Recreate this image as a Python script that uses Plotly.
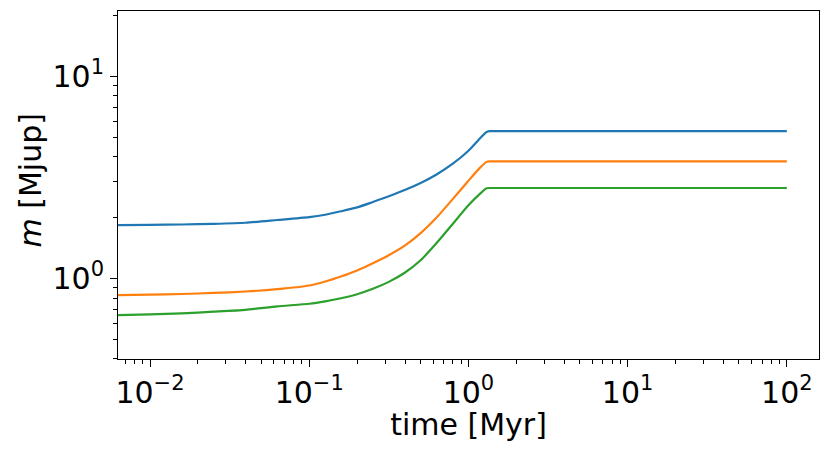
"""Planet mass growth against time for three models, log-log axes."""

import plotly.graph_objects as go

# time grid [Myr]
time_myr = [0.0063, 0.01, 0.0158, 0.0251, 0.0398, 0.063, 0.1, 0.126,
            0.158, 0.2, 0.251, 0.316, 0.398, 0.501, 0.631, 0.794, 1.0,
            1.18, 1.30, 1.36, 1.45, 10.0, 100.0]

# masses [Mjup]
mass_blue = [1.836, 1.84, 1.848, 1.862, 1.885, 1.945, 2.01, 2.065,
             2.148, 2.245, 2.388, 2.547, 2.735, 2.965, 3.266, 3.68, 4.28,
             4.92, 5.30, 5.35, 5.35, 5.35, 5.35]
mass_orange = [0.828, 0.832, 0.838, 0.848, 0.862, 0.885, 0.923, 0.966,
               1.023, 1.096, 1.189, 1.303, 1.452, 1.675, 2.00, 2.46, 3.04,
               3.52, 3.77, 3.79, 3.79, 3.79, 3.79]
mass_green = [0.659, 0.664, 0.672, 0.685, 0.70, 0.728, 0.75, 0.771,
              0.798, 0.836, 0.889, 0.962, 1.067, 1.230, 1.496, 1.854, 2.30,
              2.62, 2.79, 2.80, 2.80, 2.80, 2.80]

series = [
    (mass_blue, "#1f77b4"),
    (mass_orange, "#ff7f0e"),
    (mass_green, "#2ca02c"),
]

# tick labels
x_major = [0.01, 0.1, 1, 10, 100]
x_major_text = ["10<sup>\u22122</sup>", "10<sup>\u22121</sup>",
                "10<sup>0</sup>", "10<sup>1</sup>", "10<sup>2</sup>"]
y_major = [1, 10]
y_major_text = ["10<sup>0</sup>", "10<sup>1</sup>"]

x_minor = [m * 10.0 ** e for e in range(-3, 3) for m in range(2, 10)]
y_minor = [m * 10.0 ** e for e in range(-1, 2) for m in range(2, 10)]

fig = go.Figure()
for mass, colour in series:
    fig.add_trace(go.Scatter(
        x=time_myr, y=mass, mode="lines",
        line=dict(color=colour, width=2.2, shape="spline", smoothing=0.6),
        showlegend=False,
    ))

axis_common = dict(
    type="log", automargin=False,
    showline=True, linecolor="black", linewidth=1, mirror=True,
    ticks="outside", ticklen=7, tickwidth=1, tickcolor="black",
    showgrid=False, zeroline=False,
    tickfont=dict(size=30, color="black"),
)

fig.update_xaxes(
    **axis_common,
    range=[-2.201, 2.202],
    tickmode="array", tickvals=x_major, ticktext=x_major_text,
    minor=dict(tickmode="array", tickvals=x_minor, ticks="outside",
               ticklen=4, tickwidth=1, tickcolor="black", showgrid=False),
    title=dict(text="time [Myr]", font=dict(size=30, color="black"),
               standoff=2),
)
fig.update_yaxes(
    **axis_common,
    range=[-0.398, 1.322],
    tickmode="array", tickvals=y_major, ticktext=y_major_text,
    minor=dict(tickmode="array", tickvals=y_minor, ticks="outside",
               ticklen=4, tickwidth=1, tickcolor="black", showgrid=False),
)

# y label as an annotation so it sits where matplotlib put it
fig.add_annotation(
    text="<i>m</i> [Mjup]", textangle=-90,
    xref="paper", yref="paper", x=-0.1255, y=0.513,
    xanchor="center", yanchor="middle", showarrow=False,
    font=dict(size=30, color="black"),
)

# the page body adds an 8px margin, so the figure is shrunk to fit the window
fig.update_layout(
    width=814, height=434,
    margin=dict(l=110, r=3, t=3, b=83),
    paper_bgcolor="white", plot_bgcolor="white",
    font=dict(family="DejaVu Sans", color="black"),
)

fig.write_html("out.html")
